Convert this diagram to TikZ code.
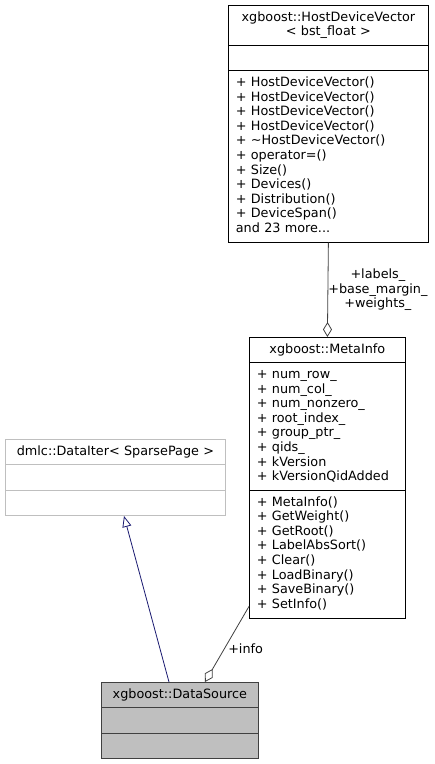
\documentclass[tikz,border=0pt]{standalone}
\usepackage{fontspec}
\setmainfont{DejaVu Sans}
\usetikzlibrary{arrows.meta,shapes.multipart}
\definecolor{grey25}{HTML}{404040}
\definecolor{grey75}{HTML}{BFBFBF}
\definecolor{midnight}{HTML}{191970}
\tikzset{cls/.style={draw=black,line width=0.8pt,rectangle split,rectangle split parts=3,anchor=north west,inner xsep=7.5pt,inner ysep=5pt,font=\fontsize{12.8}{14.6}\selectfont},extcls/.style={cls,draw=grey75},curcls/.style={cls,draw=black!75,fill=grey75},agg/.style={draw=grey25,line width=0.8pt,{Diamond[open,length=15pt,width=9pt]}-},isa/.style={draw=midnight,line width=0.8pt,{Triangle[open,length=11pt,width=9pt]}-},lbl/.style={font=\fontsize{12.8}{14.6}\selectfont,align=center,inner sep=0pt}}
\begin{document}
\begin{tikzpicture}[x=1pt,y=-1pt]
\useasboundingbox (0,0) rectangle (435,764);
\node[cls,text width=185pt] (hdv) at (228,5) {\centering\strut xgboost::HostDeviceVector\\< bst\_float >\strut\par\nodepart{two}\strut\nodepart{three}\strut + HostDeviceVector()\\+ HostDeviceVector()\\+ HostDeviceVector()\\+ HostDeviceVector()\\+ \textasciitilde HostDeviceVector()\\+ operator=()\\+ Size()\\+ Devices()\\+ Distribution()\\+ DeviceSpan()\\and 23 more...\strut};
\node[cls,text width=141pt] (meta) at (249,337) {\centering\strut xgboost::MetaInfo\strut\par\nodepart{two}\strut + num\_row\_\\+ num\_col\_\\+ num\_nonzero\_\\+ root\_index\_\\+ group\_ptr\_\\+ qids\_\\+ kVersion\\+ kVersionQidAdded\strut\nodepart{three}\strut + MetaInfo()\\+ GetWeight()\\+ GetRoot()\\+ LabelAbsSort()\\+ Clear()\\+ LoadBinary()\\+ SaveBinary()\\+ SetInfo()\strut};
\node[extcls,text width=205pt] (iter) at (5,439) {\centering\strut dmlc::DataIter< SparsePage >\strut\par\nodepart{two}\strut\nodepart{three}\strut};
\node[curcls,text width=142pt] (src) at (101,682) {\centering\strut xgboost::DataSource\strut\par\nodepart{two}\strut\nodepart{three}\strut};
\draw[agg] (meta.north) -- node[lbl,anchor=west,midway] (vecl) {+labels\_\\+base\_margin\_\\+weights\_} (hdv.south);
\draw[isa] ([xshift=119pt]iter.south west) -- ([xshift=68pt]src.north west);
\draw[agg] ([xshift=104pt]src.north west) -- node[lbl,anchor=west,pos=0.44,xshift=3.5pt] (infol) {+info} ([yshift=12pt]meta.south west);
\end{tikzpicture}
\end{document}
